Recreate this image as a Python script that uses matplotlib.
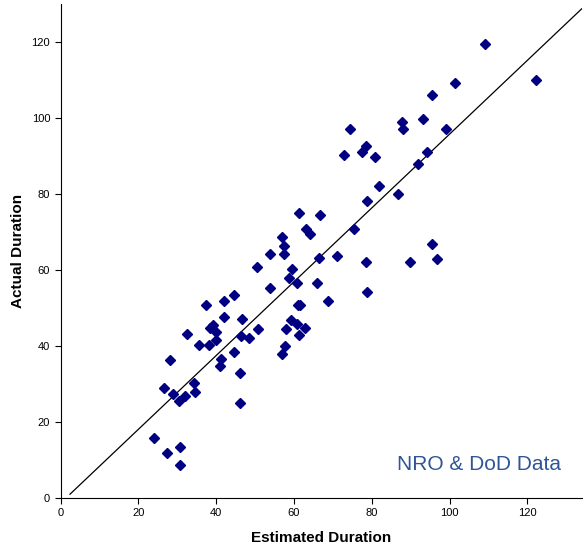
import matplotlib.pyplot as plt

# Estimated vs actual duration
estimated = [
    26.6, 29.0, 30.4, 32.1, 34.5, 34.4, 46.1, 24.0, 27.3, 30.6, 30.6,
    50.4, 44.6, 42.1, 37.4, 42.1, 46.7, 39.1, 38.5, 40.0, 32.6, 46.3,
    48.5, 50.8, 40.0, 35.7, 38.2, 44.6, 28.1, 41.3, 41.1, 46.1,
    59.6, 58.7, 60.7, 53.9, 65.8, 78.6, 78.8, 60.9, 61.5, 68.8, 59.3,
    60.8, 58.0, 62.8, 61.2, 57.6, 57.0,
    78.4, 77.4, 72.9, 80.7, 81.8, 78.8, 61.3, 66.8, 75.5, 63.2, 64.2,
    57.0, 57.4, 53.8, 57.5, 66.4, 71.1,
    94.1, 92.0, 86.7, 95.4, 96.8, 89.8,
    109.2, 122.3, 101.5, 95.4, 93.1, 87.8, 88.0, 99.0, 74.3,
]
actual = [
    28.9, 27.4, 25.6, 26.8, 27.8, 30.3, 25.1, 15.7, 11.8, 13.4, 8.7,
    60.9, 53.5, 51.8, 50.7, 47.7, 47.0, 45.5, 44.8, 43.6, 43.3, 42.6,
    42.1, 44.5, 41.6, 40.4, 40.3, 38.5, 36.3, 36.6, 34.7, 32.8,
    60.3, 58.0, 56.6, 55.3, 56.7, 62.0, 54.3, 50.9, 50.9, 51.9, 46.8,
    45.7, 44.5, 44.8, 42.8, 39.9, 37.8,
    92.6, 91.1, 90.4, 89.8, 82.0, 78.1, 75.1, 74.5, 70.9, 70.7, 69.5,
    68.8, 66.3, 64.2, 64.1, 63.3, 63.8,
    91.1, 88.0, 80.0, 66.9, 63.0, 62.0,
    119.4, 110.1, 109.3, 106.1, 99.7, 99.1, 97.0, 97.1, 97.1,
]

# reference line
line_x = [2.4, 134]
line_y = [1.0, 128.8]

plt.rcParams['font.family'] = ['Liberation Sans', 'DejaVu Sans']

fig = plt.figure(figsize=(5.83, 5.5), dpi=100)
ax = fig.add_axes([0.104, 0.0945, 0.894, 0.898])

ax.plot(line_x, line_y, color='black', linewidth=0.9)
ax.plot(estimated, actual, linestyle='none', marker='D', markersize=5.2,
        color='#000080', markeredgecolor='#000080')

ax.set_xlim(0, 134)
ax.set_ylim(0, 130)
ax.set_xticks(range(0, 121, 20))
ax.set_yticks(range(0, 121, 20))
ax.tick_params(labelsize=8, length=4, width=0.8, colors='black')
ax.spines['top'].set_visible(False)
ax.spines['right'].set_visible(False)

ax.set_xlabel('Estimated Duration', fontsize=11, fontweight='bold', labelpad=9)
ax.set_ylabel('Actual Duration', fontsize=11, fontweight='bold', labelpad=5)

ax.text(0.96, 0.067, 'NRO & DoD Data', transform=ax.transAxes,
        ha='right', va='center', fontsize=15, color='#2F5597')

plt.savefig('out.png', dpi=100)
